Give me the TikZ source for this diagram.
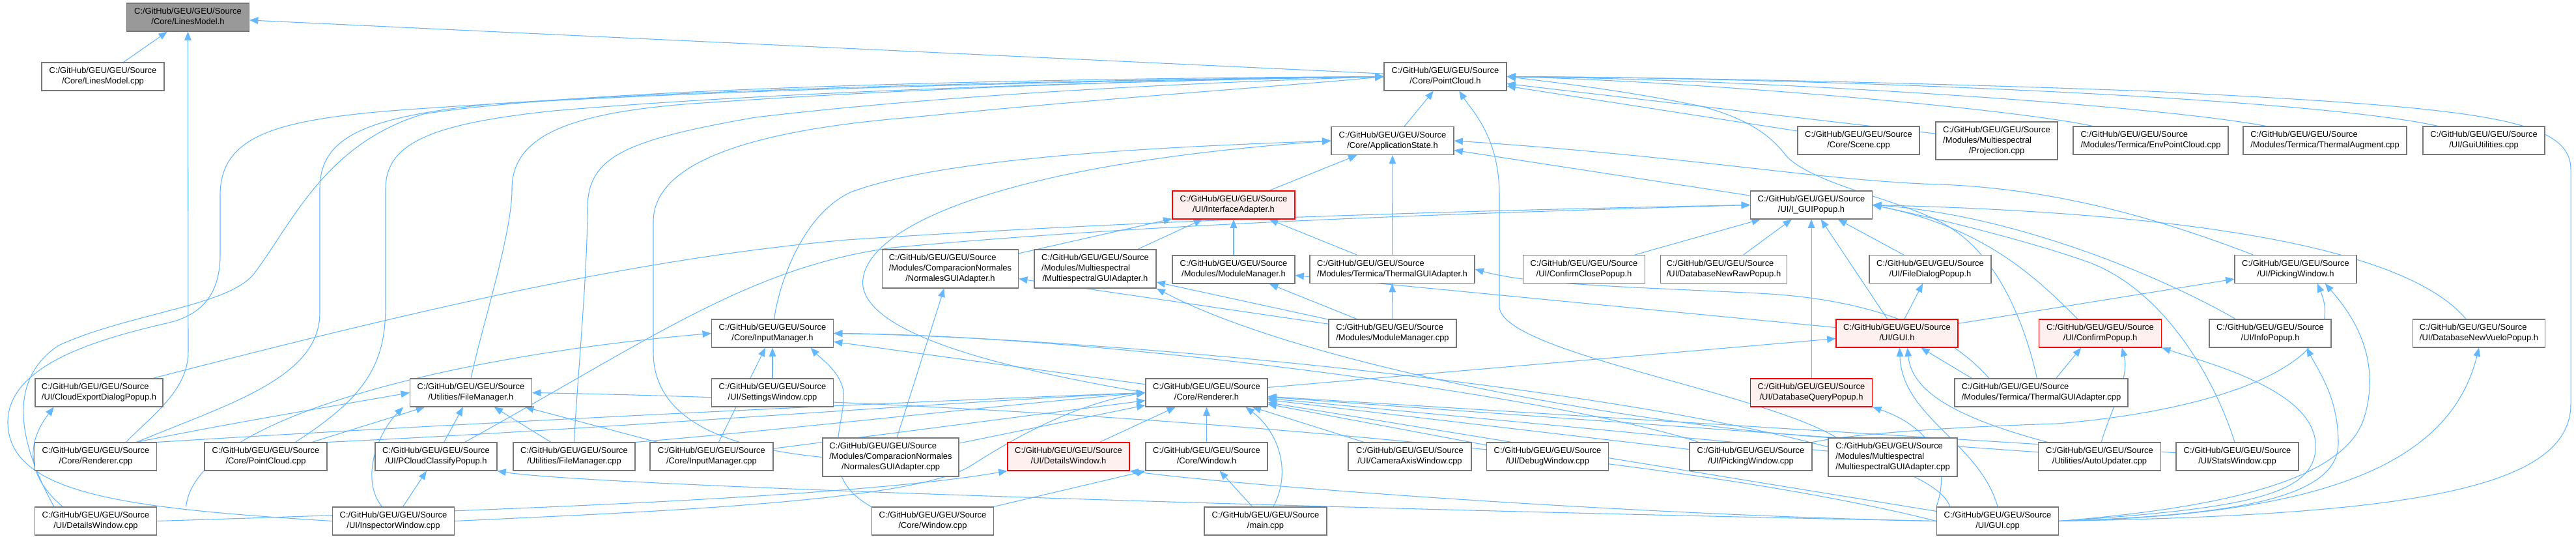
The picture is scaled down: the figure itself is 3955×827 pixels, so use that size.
\documentclass[tikz,border=0pt]{standalone}
\usepackage{fontspec}
\setmainfont{Liberation Sans}
\usetikzlibrary{arrows.meta}
\definecolor{edgec}{HTML}{63B8FF}
\definecolor{nodeb}{HTML}{777777}
\definecolor{hlfill}{HTML}{999999}
\definecolor{redb}{HTML}{FF0000}
\definecolor{redf}{HTML}{FFF0F0}
\pgfdeclarelayer{back}
\pgfdeclarelayer{edges}
\pgfsetlayers{back,edges,main}
\newcommand{\geu}{C:/GitHub/GEU/GEU/Source}
\newcommand{\twol}[1]{\begin{tabular}{@{}l@{}}\geu\\\multicolumn{1}{@{}c@{}}{#1}\end{tabular}}
\newcommand{\threel}[2]{\begin{tabular}{@{}l@{}}\geu\\#1\\\multicolumn{1}{@{}c@{}}{#2}\end{tabular}}
\tikzset{
  nbox/.style={draw=nodeb, line width=0.85pt, fill=white, inner sep=0pt,
    minimum width=188*0.75pt, minimum height=43*0.75pt,
    font=\fontsize{9.7}{12}\selectfont, text=black},
  W/.style={minimum width=#1*0.75pt},
  H/.style={minimum height=#1*0.75pt},
  hl/.style={fill=hlfill},
  redn/.style={draw=redb, fill=redf},
  lnk/.style={draw=edgec, line width=0.8pt, -{Triangle[length=10pt,width=8pt]}},
}
\begin{document}
\begin{tikzpicture}[x=0.75pt,y=-0.75pt]
\begin{pgfonlayer}{back}
\fill[white] (0,0) rectangle (3955,827);
\end{pgfonlayer}
\useasboundingbox (0,0) rectangle (3955,827);

% row 1
\node[nbox,hl] (lmh) at (288.5,26.5) {\twol{/Core/LinesModel.h}};
% row 2
\node[nbox] (lmcpp) at (158,117.5) {\twol{/Core/LinesModel.cpp}};
\node[nbox] (pch) at (2219,117.5) {\twol{/Core/PointCloud.h}};
% row 3
\node[nbox] (ash) at (2138,216) {\twol{/Core/ApplicationState.h}};
\node[nbox,W=187] (scene) at (2853.5,215.5) {\twol{/Core/Scene.cpp}};
\node[nbox,W=187,H=58] (proj) at (3065.5,216) {\threel{/Modules/Multiespectral}{/Projection.cpp}};
\node[nbox,W=238] (envpc) at (3302,215.5) {\twol{/Modules/Termica/EnvPointCloud.cpp}};
\node[nbox,W=251] (thaug) at (3569.5,215.5) {\twol{/Modules/Termica/ThermalAugment.cpp}};
\node[nbox,W=187] (guiut) at (3813.5,215.5) {\twol{/UI/GuiUtilities.cpp}};
% row 4
\node[nbox,redn] (iadap) at (1894,314.5) {\twol{/UI/InterfaceAdapter.h}};
\node[nbox,W=187] (igui) at (2781,314.5) {\twol{/UI/I\_GUIPopup.h}};
% row 5
\node[nbox,W=209,H=59] (ngah) at (1459,412.5) {\threel{/Modules/ComparacionNormales}{/NormalesGUIAdapter.h}};
\node[nbox,W=187,H=59] (mgah) at (1681.5,412.5) {\threel{/Modules/Multiespectral}{/MultiespectralGUIAdapter.h}};
\node[nbox] (mmh) at (1894,413.5) {\twol{/Modules/ModuleManager.h}};
\node[nbox,W=253] (tgah) at (2137.5,413) {\twol{/Modules/Termica/ThermalGUIAdapter.h}};
\node[nbox,W=187] (ccp) at (2432,413) {\twol{/UI/ConfirmClosePopup.h}};
\node[nbox,W=194] (dnrp) at (2646.5,413) {\twol{/UI/DatabaseNewRawPopup.h}};
\node[nbox,W=187] (fdp) at (2963.5,413) {\twol{/UI/FileDialogPopup.h}};
\node[nbox,W=187] (pwh) at (3524.5,413) {\twol{/UI/PickingWindow.h}};
% row 6
\node[nbox,W=187] (imh) at (1186,511.5) {\twol{/Core/InputManager.h}};
\node[nbox,W=196] (mmcpp) at (2138,511.5) {\twol{/Modules/ModuleManager.cpp}};
\node[nbox,W=187,redn] (guih) at (2912.5,511.5) {\twol{/UI/GUI.h}};
\node[nbox,redn] (cph) at (3224.5,511.5) {\twol{/UI/ConfirmPopup.h}};
\node[nbox,W=187] (iph) at (3485.5,511.5) {\twol{/UI/InfoPopup.h}};
\node[nbox,W=203] (dnvp) at (3806,511.5) {\twol{/UI/DatabaseNewVueloPopup.h}};
% row 7
\node[nbox,W=196] (cedp) at (152,602.5) {\twol{/UI/CloudExportDialogPopup.h}};
\node[nbox,W=187] (fmh) at (723,602.5) {\twol{/Utilities/FileManager.h}};
\node[nbox,W=187] (swcpp) at (1186,602.5) {\twol{/UI/SettingsWindow.cpp}};
\node[nbox,W=187] (rh) at (1852.5,602.5) {\twol{/Core/Renderer.h}};
\node[nbox,W=187,redn] (dqp) at (2781,602.5) {\twol{/UI/DatabaseQueryPopup.h}};
\node[nbox,W=266] (tgacpp) at (3134,602.5) {\twol{/Modules/Termica/ThermalGUIAdapter.cpp}};
% row 8
\node[nbox,W=187] (rcpp) at (147,700.5) {\twol{/Core/Renderer.cpp}};
\node[nbox] (pccpp) at (408,700.5) {\twol{/Core/PointCloud.cpp}};
\node[nbox,W=187] (pccp) at (669.5,700.5) {\twol{/UI/PCloudClassifyPopup.h}};
\node[nbox,W=187] (fmcpp) at (881.5,700.5) {\twol{/Utilities/FileManager.cpp}};
\node[nbox,W=189] (imcpp) at (1092.5,700.5) {\twol{/Core/InputManager.cpp}};
\node[nbox,W=209,H=59] (ngacpp) at (1367.5,701.5) {\threel{/Modules/ComparacionNormales}{/NormalesGUIAdapter.cpp}};
\node[nbox,W=187,redn] (dwh) at (1640.5,700.5) {\twol{/UI/DetailsWindow.h}};
\node[nbox,W=187] (winh) at (1852.5,700.5) {\twol{/Core/Window.h}};
\node[nbox,W=189] (cawcpp) at (2164.5,700.5) {\twol{/UI/CameraAxisWindow.cpp}};
\node[nbox,W=187] (dbwcpp) at (2376,700.5) {\twol{/UI/DebugWindow.cpp}};
\node[nbox] (pwcpp) at (2688,700.5) {\twol{/UI/PickingWindow.cpp}};
\node[nbox,W=198,H=59] (mgacpp) at (2906,701.5) {\threel{/Modules/Multiespectral}{/MultiespectralGUIAdapter.cpp}};
\node[nbox] (aucpp) at (3223.5,700.5) {\twol{/Utilities/AutoUpdater.cpp}};
\node[nbox] (stcpp) at (3435,700.5) {\twol{/UI/StatsWindow.cpp}};
% row 9
\node[nbox,W=187] (dwcpp) at (147,799.5) {\twol{/UI/DetailsWindow.cpp}};
\node[nbox,W=187] (iwcpp) at (604,799.5) {\twol{/UI/InspectorWindow.cpp}};
\node[nbox,W=187] (wincpp) at (1432,799.5) {\twol{/Core/Window.cpp}};
\node[nbox] (maincpp) at (1943,799.5) {\twol{/main.cpp}};
\node[nbox,W=187] (guicpp) at (3067,799.5) {\twol{/UI/GUI.cpp}};

\begin{pgfonlayer}{edges}
% LinesModel.h
\draw[lnk] (lmcpp) -- (lmh);
\draw[lnk] (pch) -- (lmh);
\draw[lnk] ([xshift=35pt]rcpp.north) .. controls (230,640) and (289,600) .. (289,540) -- (lmh.south);
% PointCloud.h from the left
\draw[lnk] ([xshift=-48pt]dwcpp.north) .. controls (40,700) and (0,590) .. (90,530) .. controls (200,480) and (350,470) .. (390,420) .. controls (450,340) and (500,220) .. (650,175) .. controls (900,135) and (1600,120) .. (pch.west);
\draw[lnk] (iwcpp.west) .. controls (200,780) and (15,760) .. (12,650) .. controls (10,560) and (150,520) .. (260,495) .. controls (320,480) and (338,440) .. (338,390) -- (338,300) .. controls (338,210) and (420,185) .. (600,170) .. controls (1000,140) and (1600,125) .. (pch.west);
\draw[lnk] ([xshift=47pt]rcpp.north) .. controls (350,620) and (491,580) .. (491,480) -- (491,290) .. controls (491,210) and (560,180) .. (750,160) .. controls (1100,135) and (1700,122) .. (pch.west);
\draw[lnk] ([xshift=34pt]pccpp.north) .. controls (560,610) and (592,560) .. (592,470) -- (592,290) .. controls (592,220) and (660,190) .. (850,170) .. controls (1200,140) and (1700,125) .. (pch.west);
\draw[lnk] (fmh.north) .. controls (740,500) and (786,360) .. (786,290) .. controls (786,210) and (870,175) .. (1050,160) .. controls (1400,135) and (1800,122) .. (pch.west);
\draw[lnk] (fmcpp.north) .. controls (885,600) and (902,420) .. (902,320) .. controls (902,240) and (960,215) .. (1160,180) .. controls (1500,140) and (1900,125) .. (pch.west);
\draw[lnk] (ngacpp.west) .. controls (1150,690) and (1003,660) .. (1003,540) -- (1003,340) .. controls (1003,250) and (1150,200) .. (1400,180) .. controls (1700,150) and (2000,130) .. (pch.west);
% PointCloud.h from the right
\draw[lnk] (scene) -- (pch);
\draw[lnk] (proj) -- (pch);
\draw[lnk] ([xshift=-67pt]envpc.north) .. controls (3080,165) and (2600,125) .. (pch.east);
\draw[lnk] ([xshift=-68pt]thaug.north) .. controls (3300,160) and (2700,122) .. (pch.east);
\draw[lnk] ([xshift=-53pt]guiut.north) .. controls (3550,150) and (2800,120) .. (pch.east);
\draw[lnk] (guicpp.east) .. controls (3700,790) and (3947,750) .. (3947,620) -- (3947,260) .. controls (3947,180) and (3800,165) .. (3300,140) .. controls (2900,125) and (2500,118) .. (pch.east);
\draw[lnk] ([xshift=-5pt]tgacpp.north) .. controls (3110,500) and (3070,400) .. (3000,353) .. controls (2940,310) and (2800,290) .. (2746,243) .. controls (2728,222) and (2705,188) .. (2612,163) .. controls (2500,140) and (2400,128) .. (pch.east);
\draw[lnk] ([xshift=10pt]mgacpp.north west) .. controls (2700,600) and (2302,540) .. (2302,470) -- (2302,300) .. controls (2302,210) and (2260,170) .. ([xshift=16pt]pch.south);
\draw[lnk] (ash) -- (pch);
% ApplicationState.h
\draw[lnk] (iadap) -- (ash);
\draw[lnk] (igui) -- (ash);
\draw[lnk] (tgah) -- (ash);
\draw[lnk] ([xshift=2pt]imh.north) .. controls (1195,440) and (1230,330) .. (1306,295) .. controls (1450,240) and (1800,225) .. (ash.west);
\draw[lnk] (rh.west) .. controls (1600,575) and (1340,525) .. (1325,440) .. controls (1315,360) and (1500,255) .. (ash.west);
\draw[lnk] ([xshift=-49pt]pwh.north) .. controls (3300,330) and (3150,290) .. (2980,283) .. controls (2800,278) and (2600,240) .. (ash.east);
% InterfaceAdapter.h
\draw[lnk] (ngah) -- (iadap);
\draw[lnk] (mgah) -- (iadap);
\draw[lnk] (mmh) -- (iadap);
\draw[lnk] (tgah) -- (iadap);
% I_GUIPopup.h
\draw[lnk] ([xshift=62pt]cedp.north) .. controls (700,460) and (1000,395) .. (1300,368) .. controls (1800,335) and (2300,322) .. (igui.west);
\draw[lnk] ([xshift=33pt]pccp.north) .. controls (1000,520) and (1150,410) .. (1370,380) .. controls (1800,340) and (2300,326) .. (igui.west);
\draw[lnk] (ccp) -- (igui);
\draw[lnk] (dnrp) -- (igui);
\draw[lnk] (dqp) -- (igui);
\draw[lnk] (guih) -- (igui);
\draw[lnk] (fdp) -- (igui);
\draw[lnk] ([xshift=-26pt]cph.north) .. controls (3130,430) and (3050,350) .. (igui.east);
\draw[lnk] ([xshift=-40pt]iph.north) .. controls (3330,430) and (3100,330) .. (igui.east);
\draw[lnk] ([xshift=-15pt]dnvp.north) .. controls (3720,410) and (3500,330) .. (igui.east);
\draw[lnk] ([xshift=-3pt]stcpp.north) .. controls (3400,580) and (3320,440) .. (3200,400) .. controls (3100,365) and (2950,330) .. (igui.east);
% adapters and module manager
\draw[lnk] (ngacpp) -- (ngah);
\draw[lnk] (mmcpp) -- (ngah);
\draw[lnk] (mmcpp) -- (mgah);
\draw[lnk] (mgacpp.north west) .. controls (2500,650) and (2000,560) .. (mgah.south east);
\draw[lnk] (mmcpp) -- (mmh);
\draw[lnk] (guih) -- (mmh);
\draw[lnk] (mmcpp) -- (tgah);
\draw[lnk] ([xshift=-60pt]tgacpp.north) .. controls (3000,520) and (2900,460) .. (2700,450) .. controls (2500,440) and (2350,437) .. (tgah.east);
% FileDialogPopup.h, PickingWindow.h
\draw[lnk] (guih) -- (fdp);
\draw[lnk] (guih) -- (pwh);
\draw[lnk] (pwcpp.north east) .. controls (2850,665) and (3000,655) .. (3159,650) .. controls (3400,630) and (3610,560) .. ([xshift=25pt]pwh.south);
\draw[lnk] (guicpp.east) .. controls (3400,780) and (3600,740) .. (3630,640) .. controls (3660,540) and (3600,470) .. ([xshift=34pt]pwh.south);
% GUI.h
\draw[lnk] (guicpp.north) .. controls (3040,680) and (2920,640) .. ([xshift=3pt]guih.south);
\draw[lnk] ([xshift=-60pt]aucpp.north) .. controls (3000,640) and (2935,600) .. ([xshift=12pt]guih.south);
\draw[lnk] ([xshift=-80pt]tgacpp.north) -- (guih);
\draw[lnk] (rh) -- (guih);
% ConfirmPopup.h, InfoPopup.h, DatabaseNewVueloPopup.h, DatabaseQueryPopup.h
\draw[lnk] ([xshift=17pt]tgacpp.north) -- ([xshift=-22pt]cph.south);
\draw[lnk] ([xshift=2pt]aucpp.north) .. controls (3240,630) and (3270,580) .. ([xshift=25pt]cph.south);
\draw[lnk] (guicpp.east) .. controls (3450,780) and (3560,760) .. (3555,680) .. controls (3550,600) and (3400,560) .. (cph.south east);
\draw[lnk] (guicpp.east) .. controls (3450,790) and (3590,760) .. (3590,680) .. controls (3590,610) and (3560,570) .. ([xshift=42pt]iph.south);
\draw[lnk] (guicpp.east) .. controls (3550,790) and (3760,720) .. (dnvp.south);
\draw[lnk] (guicpp.north west) .. controls (3000,700) and (2950,650) .. (dqp.south east);
% InputManager.h
\draw[lnk] (rh) -- (imh);
\draw[lnk] (swcpp) -- (imh);
\draw[lnk] (imcpp) -- (imh);
\draw[lnk] (wincpp.north west) .. controls (1250,730) and (1300,650) .. (1295,600) .. controls (1290,570) and (1260,550) .. ([xshift=44pt]imh.south);
\draw[lnk] ([xshift=104pt]dwcpp.north) .. controls (300,640) and (700,545) .. (imh.west);
\draw[lnk] ([xshift=-60pt]pwcpp.north) .. controls (2400,610) and (1700,515) .. (imh.east);
\draw[lnk] ([xshift=-55pt]guicpp.north) .. controls (2950,640) and (1800,520) .. (imh.east);
% FileManager.h
\draw[lnk] ([xshift=47pt]rcpp.north) .. controls (350,650) and (500,625) .. (fmh.west);
\draw[lnk] (pccpp) -- (fmh);
\draw[lnk] ([xshift=-13pt]iwcpp.north) .. controls (555,740) and (575,670) .. ([xshift=-78pt]fmh.south);
\draw[lnk] (pccp) -- (fmh);
\draw[lnk] (fmcpp) -- (fmh);
\draw[lnk] (imcpp) -- (fmh);
\draw[lnk] (guicpp.west) .. controls (2500,680) and (1500,615) .. (fmh.east);
% PCloudClassifyPopup.h, CloudExportDialogPopup.h
\draw[lnk] (iwcpp) -- (pccp);
\draw[lnk] (guicpp.west) .. controls (2000,780) and (900,745) .. (pccp.south east);
\draw[lnk] ([xshift=-38pt]dwcpp.north) .. controls (40,730) and (40,680) .. ([xshift=-52pt]cedp.south);
% Renderer.h
\draw[lnk] (rcpp.north east) .. controls (700,650) and (1300,620) .. (rh.west);
\draw[lnk] (pccpp.north east) .. controls (900,660) and (1400,620) .. (rh.west);
\draw[lnk] (fmcpp.north east) .. controls (1200,660) and (1500,625) .. (rh.west);
\draw[lnk] (imcpp) -- (rh);
\draw[lnk] (ngacpp) -- (rh);
\draw[lnk] (iwcpp.east) .. controls (1000,785) and (1400,770) .. (1490,715) .. controls (1560,670) and (1650,620) .. (rh.west);
\draw[lnk] (dwh) -- (rh);
\draw[lnk] (winh) -- (rh);
\draw[lnk] ([xshift=9pt]maincpp.north) .. controls (1985,720) and (1960,660) .. ([xshift=45pt]rh.south);
\draw[lnk] (cawcpp) -- (rh);
\draw[lnk] (dbwcpp) -- (rh);
\draw[lnk] (pwcpp) -- (rh);
\draw[lnk] (mgacpp) -- (rh);
\draw[lnk] (aucpp) -- (rh);
\draw[lnk] (stcpp) -- (rh);
\draw[lnk] (guicpp) -- (rh);
% DetailsWindow.h, Window.h
\draw[lnk] (dwcpp.east) .. controls (700,785) and (1300,765) .. (dwh.south west);
\draw[lnk] (guicpp.west) .. controls (2500,790) and (1900,745) .. (dwh.south east);
\draw[lnk] (wincpp) -- (winh);
\draw[lnk] (maincpp) -- (winh);
\end{pgfonlayer}
\end{tikzpicture}
\end{document}
